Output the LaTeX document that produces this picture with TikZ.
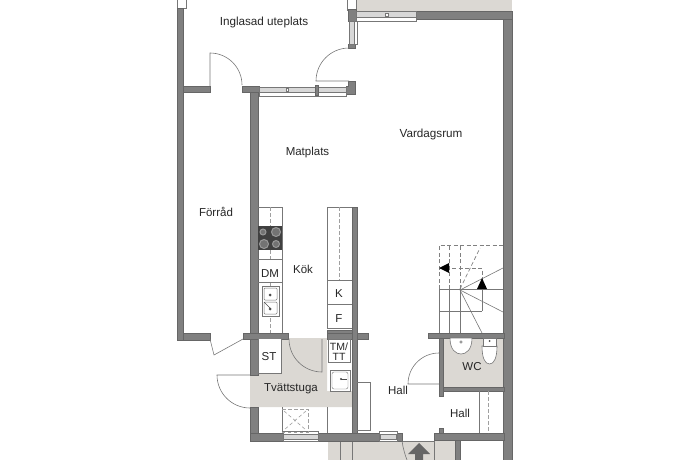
\documentclass[tikz,border=0pt]{standalone}
\usepackage{fontspec}
\setmainfont{Liberation Sans}
\definecolor{wallc}{HTML}{808080}
\definecolor{walle}{HTML}{666666}
\definecolor{floorc}{HTML}{DBD8D3}
\definecolor{linec}{HTML}{777777}
\definecolor{winc}{HTML}{D8D8D8}
\tikzset{
 wall/.style={fill=wallc,draw=walle,line width=.4pt},
 thin line/.style={draw=linec,line width=.6pt},
 win/.style={fill=winc,draw=linec,line width=.5pt},
 winw/.style={fill=white,draw=linec,line width=.5pt},
 dash line/.style={draw=linec!70,line width=.6pt,dash pattern=on 3.5pt off 2.5pt},
 stairdash/.style={draw=black!50,line width=.7pt,dash pattern=on 4pt off 2.5pt},
 label/.style={font=\fontsize{11.5}{12}\selectfont,text=black!85,inner sep=0pt,align=center,yshift=-1.5pt},
}
\begin{document}
\begin{tikzpicture}[x=1pt,y=-1pt]
\useasboundingbox (0,0) rectangle (690,460);
% floors
\fill[floorc] (355,0) rectangle (512,11);
\fill[floorc] (258,373) -- (281,373) -- (281,338) -- (327,338) -- (327,391) -- (352,391) -- (352,407) -- (250,407) -- (250,375) -- (258,375) -- cycle;
\fill[floorc] (443,338) rectangle (504,387);
\fill[floorc] (328,441) rectangle (455,460);
\draw[linec,line width=.4pt] (340,441) -- (340,460) (352,441) -- (352,460) (402,441) -- (434,441) (434,441) -- (434,460);
% outer terrace top
\draw[winw] (177,-1) rectangle (186,8);
\draw[winw] (347,-1) rectangle (356,10);
% walls
\fill[wall] (177,8) rectangle (183,340);
\fill[wall] (183,86) rectangle (210,92);
\fill[wall] (242,86) rectangle (259,92);
\fill[wall] (250,92) rectangle (258,333);
\fill[wall] (183,333) rectangle (210,340);
\fill[wall] (243,333) rectangle (288,339);
\fill[wall] (250,339) rectangle (258,375);
\fill[wall] (250,407) rectangle (258,441);
\fill[wall] (250,433) rectangle (283,441);
\fill[wall] (318,433) rectangle (379,441);
\fill[wall] (397,433) rectangle (402,441);
\fill[wall] (327,330) rectangle (352,339);
\fill[wall] (327,333) rectangle (368,339);
\fill[wall] (352,207) rectangle (357,433);
\fill[wall] (348,81) -- (355,81) -- (355,94) -- (346,94) -- (346,86) -- (348,86) -- cycle;
\fill[wall] (348,9) rectangle (356,21);
\fill[wall] (348,44) rectangle (355,48);
\fill[wall] (416,11) rectangle (512,19);
\fill[wall] (503,19) rectangle (512,460);
\fill[wall] (428,333) rectangle (504,338);
\fill[wall] (439,338) rectangle (443,396);
\fill[wall] (443,387) rectangle (504,391);
\fill[wall] (439,428) rectangle (443,433);
\fill[wall] (434,433) rectangle (504,440);
\fill[wall] (455,440) rectangle (460,460);
% windows
\draw[winw] (259,88) rectangle (346,96);
\draw[win] (259,87) rectangle (346,92);
\draw[linec,fill=white] (286,88) rectangle (288,91);
\fill[wall] (315,85) rectangle (318,95);
\draw[winw] (349,21) rectangle (357,44);
\draw[win] (349,21) rectangle (354,44);
\draw[winw] (356,11) rectangle (416,21);
\draw[win] (356,11) rectangle (416,17);
\draw[linec,fill=white] (385,13) rectangle (388,16);
\draw[winw] (283,431) rectangle (318,441);
\draw[win] (283,434) rectangle (318,439);
\draw[winw] (379,431) rectangle (397,441);
\draw[win] (380,434) rectangle (396,439);
% doors
\draw[thin line] (210,86) -- (210,53) arc[start angle=-90,end angle=0,radius=32];
\draw[thin line] (349,81) -- (316,81) arc[start angle=180,end angle=270,radius=33];
\draw[thin line] (243,339) -- (214,355) -- (210,339);
\draw[thin line] (250,375) -- (217,375) arc[start angle=180,end angle=90,radius=33];
\draw[thin line] (289,339) arc[start angle=180,end angle=90,radius=33] -- (322,339);
\draw[thin line] (439,384) -- (408,384) arc[start angle=180,end angle=270,radius=31];
\draw[thin line] (402,441) .. controls (403,448) and (405,455) .. (407,460);
% kitchen
\draw[thin line] (258,207) -- (282,207) -- (282,333);
\fill[black!75] (258,226) rectangle (282,250);
\foreach \x/\y/\r in {263/232/3,276/232/4.5,264/244/4.5,276/244/3.5}{
 \draw[black!40,line width=1pt,fill=black!55] (\x,\y) circle (\r);}
\draw[dash line] (270,207) -- (270,226) (270,250) -- (270,259) (270,282) -- (270,333);
\draw[thin line] (258,259) -- (282,259) (258,282) -- (282,282);
\draw[linec,line width=1pt,fill=white] (262,286) rectangle (279,316);
\draw[linec,line width=.5pt,rounded corners=1pt,fill=white] (264,288) rectangle (277,300);
\draw[linec,line width=.5pt,rounded corners=1pt,fill=white] (264,302) rectangle (277,314);
\fill[black!70] (270,295) circle (1.5) (270,309) circle (1.5);
\draw[black!70,line width=.6pt] (264,302) -- (270,308);
\draw[thin line] (352,207) -- (327,207) -- (327,328) -- (352,328);
\draw[dash line] (339,207) -- (339,280);
\draw[thin line] (327,280) -- (352,280) (327,304) -- (352,304);
% laundry fixtures
\draw[thin line,fill=white] (258,339) -- (258,373) -- (281,373) -- (281,339);
\draw[thin line,fill=white] (328,339) rectangle (350,362);
\draw[linec,line width=1pt,fill=white] (330,370) rectangle (350,391);
\draw[linec,line width=.4pt,fill=white,rounded corners=2pt] (332,372) rectangle (348,389);
\fill[black!70] (341,379) circle (1.2);
\draw[black!70,line width=.5pt] (341,379) -- (347,379);
\draw[thin line] (282,407) -- (282,433) (327,407) -- (327,433);
\draw[dash line] (282,409) -- (308,409) -- (308,432) -- (282,432);
\draw[dash line] (284,411) -- (306,430) (306,411) -- (284,430);
\draw[thin line] (357,382) -- (370,382) -- (370,430) -- (357,430);
% stairs
\draw[stairdash] (439,289) -- (439,245) -- (503,245);
\draw[stairdash] (449,289) -- (449,245) (460,289) -- (460,245);
\draw[stairdash] (439,268) -- (482,268) -- (482,289);
\draw[stairdash] (460,289) -- (480,248);
\draw[thin line] (439,289) -- (503,289) (439,311) -- (482,311) (439,289) -- (439,333) (449,289) -- (449,333) (460,289) -- (460,333) (482,289) -- (482,311);
\draw[thin line] (460,290) -- (503,268) (460,290) -- (503,312) (460,290) -- (482,333);
\fill[black] (439,268) -- (449,263) -- (449,273) -- cycle;
\fill[black] (482,278) -- (477,289) -- (487,289) -- cycle;
% WC
\draw[thin line,fill=white] (450,338) -- (472,338) .. controls (472,350) and (466,354) .. (461,354) .. controls (456,354) and (450,350) .. (450,338) -- cycle;
\draw[linec,line width=.5pt,fill=white] (461,342) circle (1.3);
\draw[thin line,fill=white] (482,346) .. controls (482,358) and (485,364) .. (489.5,364) .. controls (494,364) and (497,358) .. (497,346) -- cycle;
\draw[thin line,fill=white] (483,338) rectangle (496,346);
\fill[black!70] (489.5,341) circle (1);
% Hall fixtures
\draw[thin line] (479,391) -- (479,433);
\draw[dash line] (488,391) -- (488,433);
% arrow
\fill[black!60] (419,443) -- (430,454) -- (423,454) -- (423,460) -- (415,460) -- (415,454) -- (408,454) -- cycle;
% labels
\node[label,font=\fontsize{11.7}{12}\selectfont] (a) at (264,21) {Inglasad uteplats};
\node[label,font=\fontsize{11.7}{12}\selectfont] (b) at (431,132.5) {Vardagsrum};
\node[label] (c) at (307.5,151) {Matplats};
\node[label] (d) at (216,210) {Förråd};
\node[label] (e) at (303,268) {Kök};
\node[label] (f) at (270,272) {DM};
\node[label] (g) at (339,292) {K};
\node[label] (h) at (339,317) {F};
\node[label] (i) at (269,355) {ST};
\node[label,font=\fontsize{10.5}{10}\selectfont] (j) at (339,350) {TM/\\TT};
\node[label] (k) at (291,387) {Tvättstuga};
\node[label] (l) at (398,389) {Hall};
\node[label] (m) at (472,365) {WC};
\node[label] (n) at (460,412) {Hall};
\end{tikzpicture}
\end{document}
